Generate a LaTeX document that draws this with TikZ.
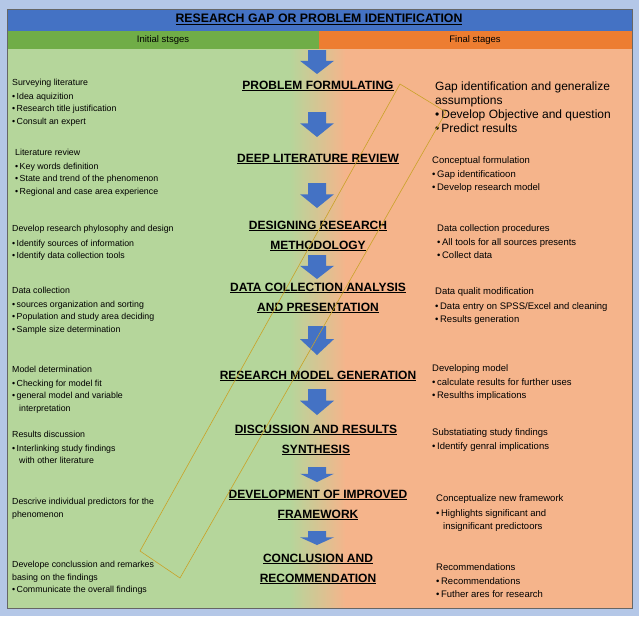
\documentclass[tikz,border=0pt]{standalone}
\usepackage{fontspec}
\setmainfont{Liberation Sans}
\usetikzlibrary{positioning}
\definecolor{hdblue}{HTML}{4472C4}
\definecolor{hdgreen}{HTML}{70AD47}
\definecolor{hdorange}{HTML}{ED7D31}
\definecolor{bdgreen}{HTML}{B5D69B}
\definecolor{bdorange}{HTML}{F5B48B}
\definecolor{frame}{HTML}{B4C7E7}
\definecolor{wmark}{HTML}{C9A227}
\newcommand{\blockarr}[3]{% x, top y, bottom y
  \fill[hdblue] (#1-9,#2) -- (#1+9,#2) -- (#1+9,{#2+0.45*(#3-#2)}) -- (#1+17,{#2+0.45*(#3-#2)})
    -- (#1,#3) -- (#1-17,{#2+0.45*(#3-#2)}) -- (#1-9,{#2+0.45*(#3-#2)}) -- cycle;}
\begin{document}
\begin{tikzpicture}[x=1pt,y=-1pt,
    stage/.style={font=\bfseries\fontsize{12}{20}\selectfont, align=center},
    lnote/.style={anchor=north west, font=\fontsize{8.8}{12.5}\selectfont, align=left, inner sep=0},
    rnote/.style={anchor=north west, font=\fontsize{9.5}{13}\selectfont, align=left, inner sep=0}]
\useasboundingbox (0,0) rectangle (639,616);

% Background
\fill[frame] (0,0) rectangle (639,616);
\fill[hdblue] (7,9) rectangle (632,31);
\fill[hdgreen] (7,31) rectangle (319,49);
\fill[hdorange] (319,31) rectangle (632,49);
\fill[bdgreen] (7,49) rectangle (290,608);
\shade[left color=bdgreen, right color=bdorange] (289,49) rectangle (346,608);
\fill[bdorange] (345,49) rectangle (632,608);
\draw[black!60] (7,9) rectangle (632,608);

% Header texts
\node[font=\bfseries\fontsize{12.3}{14}\selectfont] (title) at (319,19) {\underline{RESEARCH GAP OR PROBLEM IDENTIFICATION}};
\node[font=\fontsize{9.5}{11}\selectfont] (initial) at (163,40) {Initial stsges};
\node[font=\fontsize{9.5}{11}\selectfont] (final) at (475,40) {Final stages};

% Arrows
\blockarr{317}{50}{74}
\blockarr{317}{112}{137}
\blockarr{317}{183}{208}
\blockarr{317}{255}{279}
\blockarr{317}{326}{355}
\blockarr{317}{389}{415}
\blockarr{317}{467}{482}
\blockarr{317}{531}{545}

% Stages
\node[stage] (s1) at (318,86) {\underline{PROBLEM FORMULATING}};
\node[stage] (s2) at (318,159) {\underline{DEEP LITERATURE REVIEW}};
\node[stage] (s3) at (318,236) {\underline{DESIGNING RESEARCH}\\\underline{METHODOLOGY}};
\node[stage] (s4) at (318,298) {\underline{DATA COLLECTION ANALYSIS}\\\underline{AND PRESENTATION}};
\node[stage] (s5) at (318,376) {\underline{RESEARCH MODEL GENERATION}};
\node[stage] (s6) at (316,440) {\underline{DISCUSSION AND RESULTS}\\\underline{SYNTHESIS}};
\node[stage] (s7) at (318,505) {\underline{DEVELOPMENT OF IMPROVED}\\\underline{FRAMEWORK}};
\node[stage] (s8) at (318,569) {\underline{CONCLUSION AND}\\\underline{RECOMMENDATION}};

% Left notes
\node[lnote] (l1) at (12,79) {Surveying literature\\[1pt]\textbullet\,Idea aquizition\\\textbullet\,Research title justification\\\textbullet\,Consult an expert};
\node[lnote] (l2) at (15,149) {Literature review\\[1pt]\textbullet\,Key words definition\\\textbullet\,State and trend of the phenomenon\\\textbullet\,Regional and case area experience};
\node[lnote] (l3) at (12,225) {Develop research phylosophy and design\\[2pt]\textbullet\,Identify sources of information\\\textbullet\,Identify data collection tools};
\node[lnote] (l4) at (12,287) {Data collection\\[1pt]\textbullet\,sources organization and sorting\\\textbullet\,Population and study area deciding\\\textbullet\,Sample size determination};
\node[lnote] (l5) at (12,366) {Model determination\\[1pt]\textbullet\,Checking for model fit\\\textbullet\,general model and variable\\\hspace{7pt}interpretation};
\node[lnote] (l6) at (12,431) {Results discussion\\[1pt]\textbullet\,Interlinking study findings\\\hspace{7pt}with other literature};
\node[lnote] (l7) at (12,498) {Descrive individual predictors for the\\phenomenon};
\node[lnote] (l8) at (12,561) {Develope conclussion and remarkes\\basing on the findings\\\textbullet\,Communicate the overall findings};

% Right notes
\node[rnote, font=\fontsize{12}{13.5}\selectfont] (r1) at (435,82) {Gap identification and generalize\\assumptions\\[1pt]\textbullet\,Develop Objective and question\\\textbullet\,Predict results};
\node[rnote] (r2) at (432,156) {Conceptual formulation\\[1pt]\textbullet\,Gap identificatioon\\\textbullet\,Develop research model};
\node[rnote] (r3) at (437,224) {Data collection procedures\\[1pt]\textbullet\,All tools for all sources presents\\\textbullet\,Collect data};
\node[rnote] (r4) at (435,287) {Data qualit modification\\[2pt]\textbullet\,Data entry on SPSS/Excel and cleaning\\\textbullet\,Results generation};
\node[rnote] (r5) at (432,364) {Developing model\\[1pt]\textbullet\,calculate results for further uses\\\textbullet\,Resulths implications};
\node[rnote] (r6) at (432,428) {Substatiating study findings\\[1pt]\textbullet\,Identify genral implications};
\node[rnote] (r7) at (436,494) {Conceptualize new framework\\[2pt]\textbullet\,Highlights significant and\\\hspace{7pt}insignificant predictoors};
\node[rnote] (r8) at (436,563) {Recommendations\\[1pt]\textbullet\,Recommendations\\\textbullet\,Futher ares for research};

% Watermark frame
\draw[wmark, line width=0.6pt] (400,84) -- (446,112) -- (180,578) -- (140,551) -- cycle;
\end{tikzpicture}
\end{document}
